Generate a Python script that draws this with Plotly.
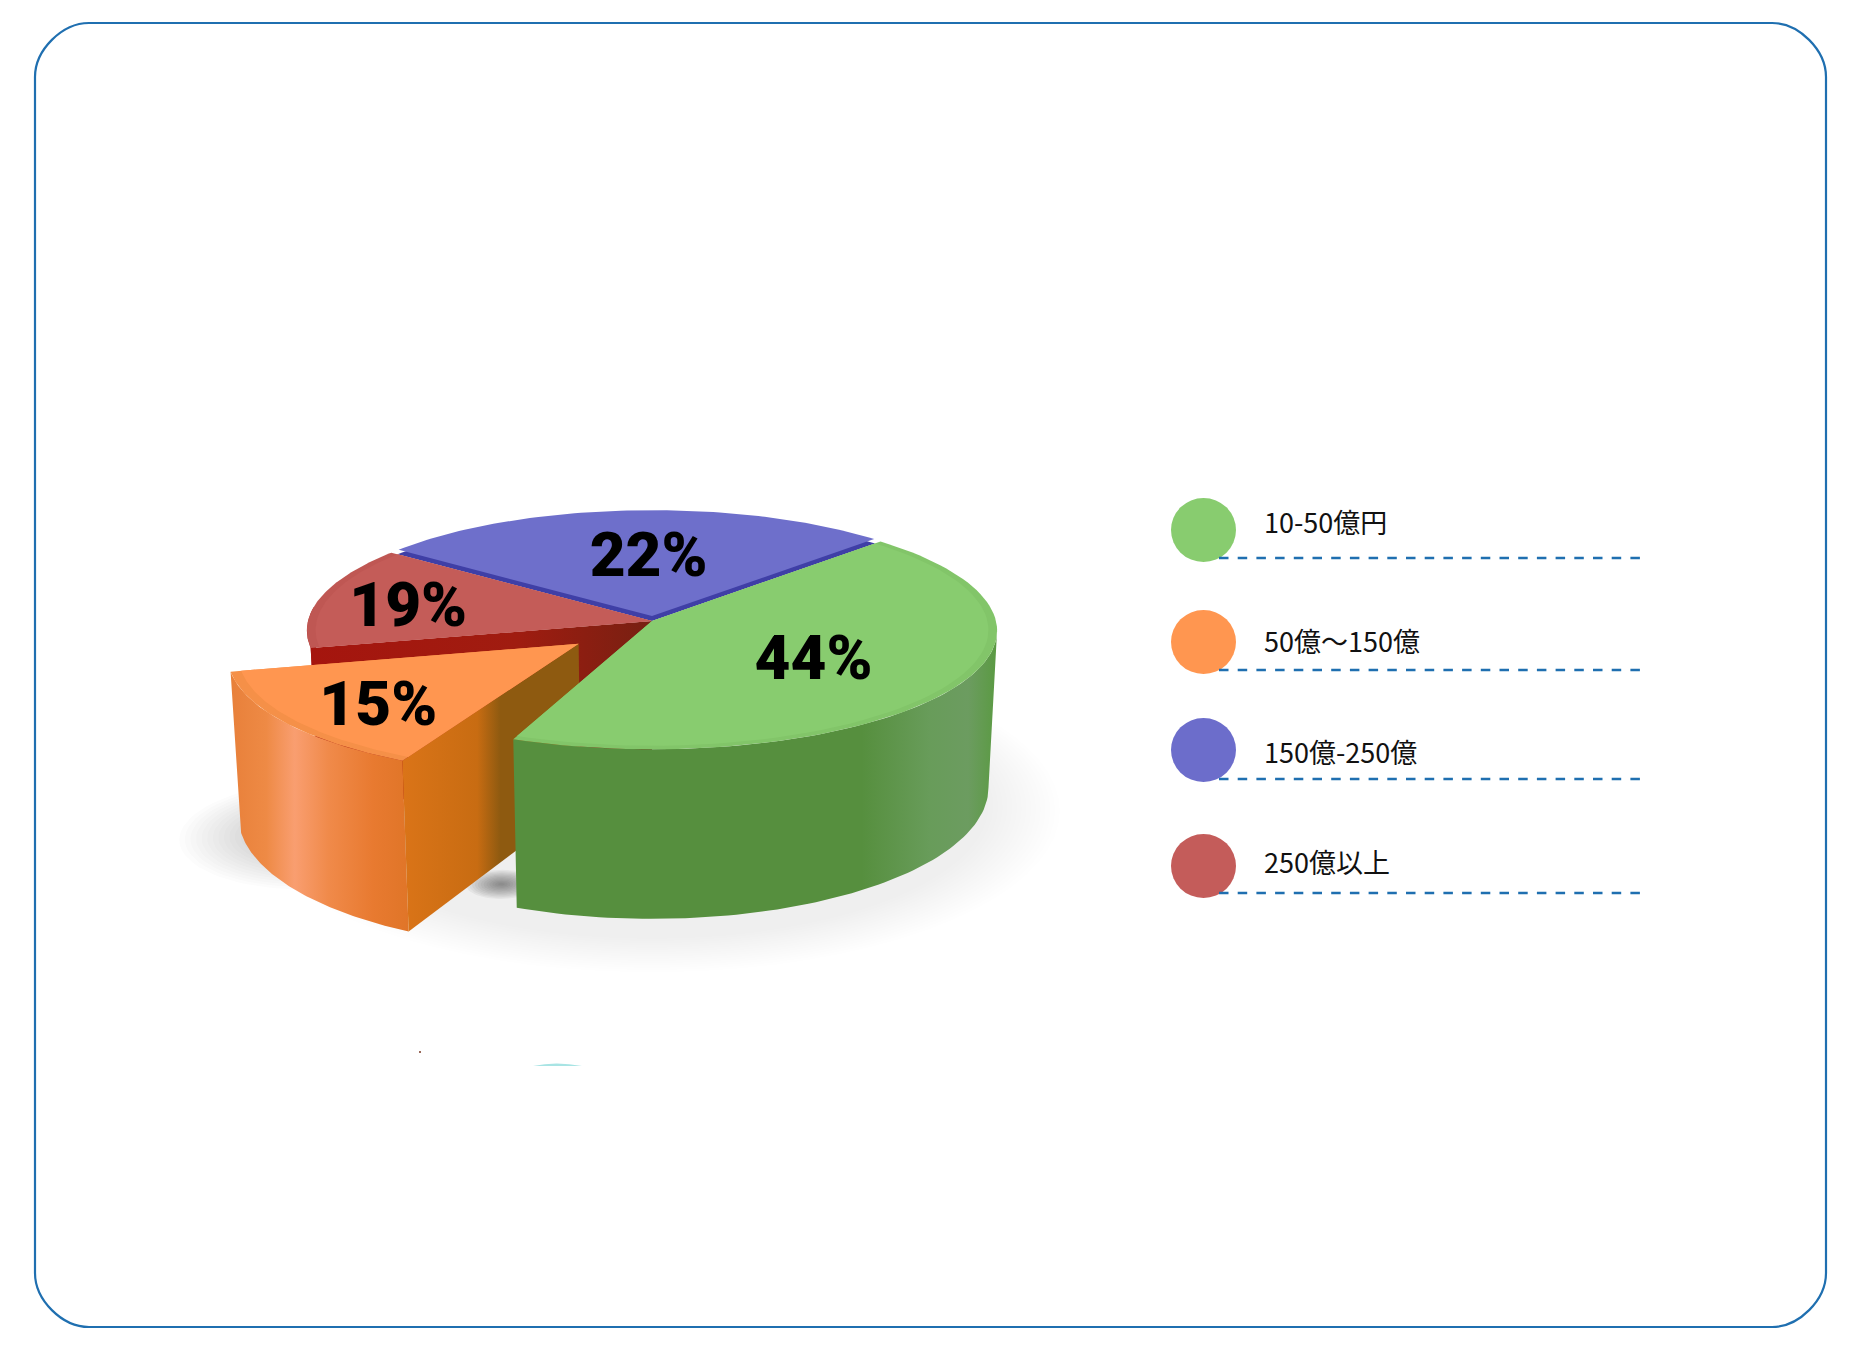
import numpy as np
import plotly.graph_objects as go

# legend labels and the percentages printed on the slices
categories = ["10-50億円", "50億～150億", "150億-250億", "250億以上"]
printed_pct = [44, 15, 19, 22]
# share of the circle each slice really takes in the picture (differs from the print)
drawn_share = [43.7, 15.3, 14, 27]
# where each percentage sits on its slice: clockwise angle and radius
label_angle = [123.6, 229, 281, 359]
label_radius = [0.55, 0.72, 0.73, 0.59]

START_ANGLE = 44.6
CX, CY = 652, 621
RX, RY = 344, 118
WALL = 156
PERSP = 0.08
TAPER = 0.025
EXPLODE = (-0.21, -0.19)
ORANGE_TRIM = 5

GREEN, ORANGE, RED, BLUE = "#88CC6F", "#FF9650", "#C45C58", "#6E6FCB"
legend_colors = [GREEN, ORANGE, "#6C6DCB", "#C45C5A"]
legend_dot_y = [530, 642, 750, 866]
legend_text_y = [521, 640, 751, 861]
legend_line_y = [558, 670, 779, 893]

# clockwise angle from the far side of the pie
sweeps = np.array(drawn_share) * 3.6
edges = START_ANGLE + np.concatenate([[0], np.cumsum(sweeps)])
# right-hand silhouette of the perspective circle
SILHOUETTE = np.degrees(np.arccos(-PERSP))


def project(X, Y, z=0.0):
    s = 1 / (1 + PERSP * np.asarray(Y, dtype=float))
    taper = 1 - TAPER * z / WALL
    return CX + RX * np.asarray(X) * s * taper, CY - RY * np.asarray(Y) * s + z * s


def rim(a0, a1, r=1.0, off=(0, 0), n=80):
    a = np.radians(np.linspace(a0, a1, n))
    return off[0] + r * np.sin(a), off[1] + r * np.cos(a)


def top_poly(a0, a1, r=1.0, off=(0, 0), z=0.0):
    X, Y = rim(a0, a1, r, off)
    return project(np.r_[off[0], X, off[0]], np.r_[off[1], Y, off[1]], z)


def blob(X, Y, r, z=0.0):
    a = np.radians(np.linspace(0, 360, 80))
    return project(X + r * np.sin(a), Y + r * np.cos(a), z)


def wall_poly(a0, a1, off=(0, 0), h=WALL):
    X, Y = rim(a0, a1, 1.0, off)
    xt, yt = project(X, Y)
    xb, yb = project(X, Y, h)
    return np.r_[xt, xb[::-1], xt[0]], np.r_[yt, yb[::-1], yt[0]]


def face_poly(angle, off=(0, 0), h=WALL):
    X, Y = rim(angle, angle, 1.0, off, n=1)
    X0, Y0 = np.array([off[0], X[0]]), np.array([off[1], Y[0]])
    xt, yt = project(X0, Y0)
    xb, yb = project(X0, Y0, h)
    return np.r_[xt, xb[::-1], xt[0]], np.r_[yt, yb[::-1], yt[0]]


fig = go.Figure()


def add_fill(xy, color=None, stops=None):
    kw = {"fillcolor": color} if color else {
        "fillgradient": dict(type="horizontal", colorscale=stops)}
    fig.add_trace(go.Scatter(x=xy[0], y=xy[1], mode="lines", fill="toself",
                             line=dict(width=0), hoverinfo="skip",
                             showlegend=False, **kw))


g0, g1, o1, r1, b1 = edges
o0 = g1 + ORANGE_TRIM

# soft floor shadows
for i in range(16):
    add_fill(top_poly(0, 360, 1.0 + 0.014 * i, (0.0, -0.03), WALL + 14), "rgba(70,70,70,0.007)")
for i in range(24):
    add_fill(blob(-0.98, -0.36, 0.02 + 0.016 * i, WALL + 8), "rgba(50,50,50,0.014)")
for i in range(12):
    add_fill(blob(-0.42, -0.8, 0.01 + 0.008 * i, WALL - 4), "rgba(30,30,30,0.05)")

# far slices first
add_fill(top_poly(r1, b1, 0.975), "#3F3FA6")
add_fill(top_poly(r1, b1, 0.97, (0, 0), -5), BLUE)

add_fill(wall_poly(o1, o1 + 20), "#A8170F")
add_fill(face_poly(o1), stops=[[0, "#A5150E"], [0.6, "#A01C10"], [1, "#772012"]])
add_fill(top_poly(o1, r1), "#BF5753")
add_fill(top_poly(o1, r1, 0.975), RED)

# exploded orange slice
add_fill(wall_poly(o0, o1, EXPLODE), stops=[
    [0, "#E8803A"], [0.2, "#EE8A45"], [0.36, "#F99E70"], [0.55, "#F08A4A"],
    [0.8, "#E87A30"], [1, "#E07528"]])
add_fill(face_poly(o0, EXPLODE), stops=[
    [0, "#DA7418"], [0.42, "#C86C12"], [0.55, "#8E5A10"], [1, "#8E5A10"]])
add_fill(top_poly(o0, o1, 1.0, EXPLODE), "#F59048")
add_fill(top_poly(o0, o1, 0.97, EXPLODE), ORANGE)

# green slice sits in front of everything, wall drawn only where it faces us
add_fill(wall_poly(SILHOUETTE, g1), stops=[
    [0, "#568F3E"], [0.72, "#568F3E"], [0.86, "#689C5A"], [0.94, "#6C9C60"], [1, "#5A9A42"]])
add_fill(top_poly(g0, g1), "#82C569")
add_fill(top_poly(g0, g1, 0.975), GREEN)

# percentage labels
offs = [(0, 0), EXPLODE, (0, 0), (0, 0)]
lx, ly = [], []
for m, r, off in zip(label_angle, label_radius, offs):
    a = np.radians(m)
    px, py = project(off[0] + r * np.sin(a), off[1] + r * np.cos(a))
    lx.append(float(px))
    ly.append(float(py) + 6)
fig.add_trace(go.Scatter(x=lx, y=ly, mode="text", text=[f"{v}%" for v in printed_pct],
                         textposition="middle center", hoverinfo="skip", showlegend=False,
                         textfont=dict(family="Roboto", size=62, color="#000000", weight=900)))

# rounded frame
L, T, R, B, C = 35, 23, 1826, 1327, 54
frame = (f"M{L + C},{T} L{R - C},{T} C{R - C / 2},{T} {R},{T + C / 2} {R},{T + C} "
         f"L{R},{B - C} C{R},{B - C / 2} {R - C / 2},{B} {R - C},{B} "
         f"L{L + C},{B} C{L + C / 2},{B} {L},{B - C / 2} {L},{B - C} "
         f"L{L},{T + C} C{L},{T + C / 2} {L + C / 2},{T} {L + C},{T} Z")
shapes = [dict(type="path", path=frame, line=dict(color="#1F6FB0", width=2.2))]

# specks left over at the bottom of the pie image
shapes.append(dict(type="path", path="M533,1066 Q556,1061 582,1066 Z",
                   fillcolor="#A8E4E4", line=dict(width=0)))
shapes.append(dict(type="rect", x0=419, x1=421, y0=1051, y1=1053,
                   fillcolor="#9A6A5A", line=dict(width=0)))

for color, dy, ly_ in zip(legend_colors, legend_dot_y, legend_line_y):
    shapes.append(dict(type="circle", x0=1171, x1=1236, y0=dy - 32, y1=dy + 32,
                       fillcolor=color, line=dict(width=0)))
    shapes.append(dict(type="line", x0=1219, x1=1644, y0=ly_, y1=ly_,
                       line=dict(color="#1F6FB0", width=2.4, dash="9.5px,9.2px")))

annotations = [dict(x=1262, y=y, text=t, showarrow=False, xanchor="left", yanchor="middle",
                    font=dict(family="Noto Sans CJK JP", size=27, color="#111111"))
               for t, y in zip(categories, legend_text_y)]

fig.update_layout(
    width=1856, height=1350, margin=dict(l=0, r=0, t=0, b=0),
    paper_bgcolor="white", plot_bgcolor="white", showlegend=False,
    xaxis=dict(range=[0, 1856], visible=False, fixedrange=True),
    yaxis=dict(range=[1350, 0], visible=False, fixedrange=True),
    shapes=shapes, annotations=annotations,
)

fig.write_html("out.html", config={"displayModeBar": False},
               post_script="document.body.style.margin='0';")
